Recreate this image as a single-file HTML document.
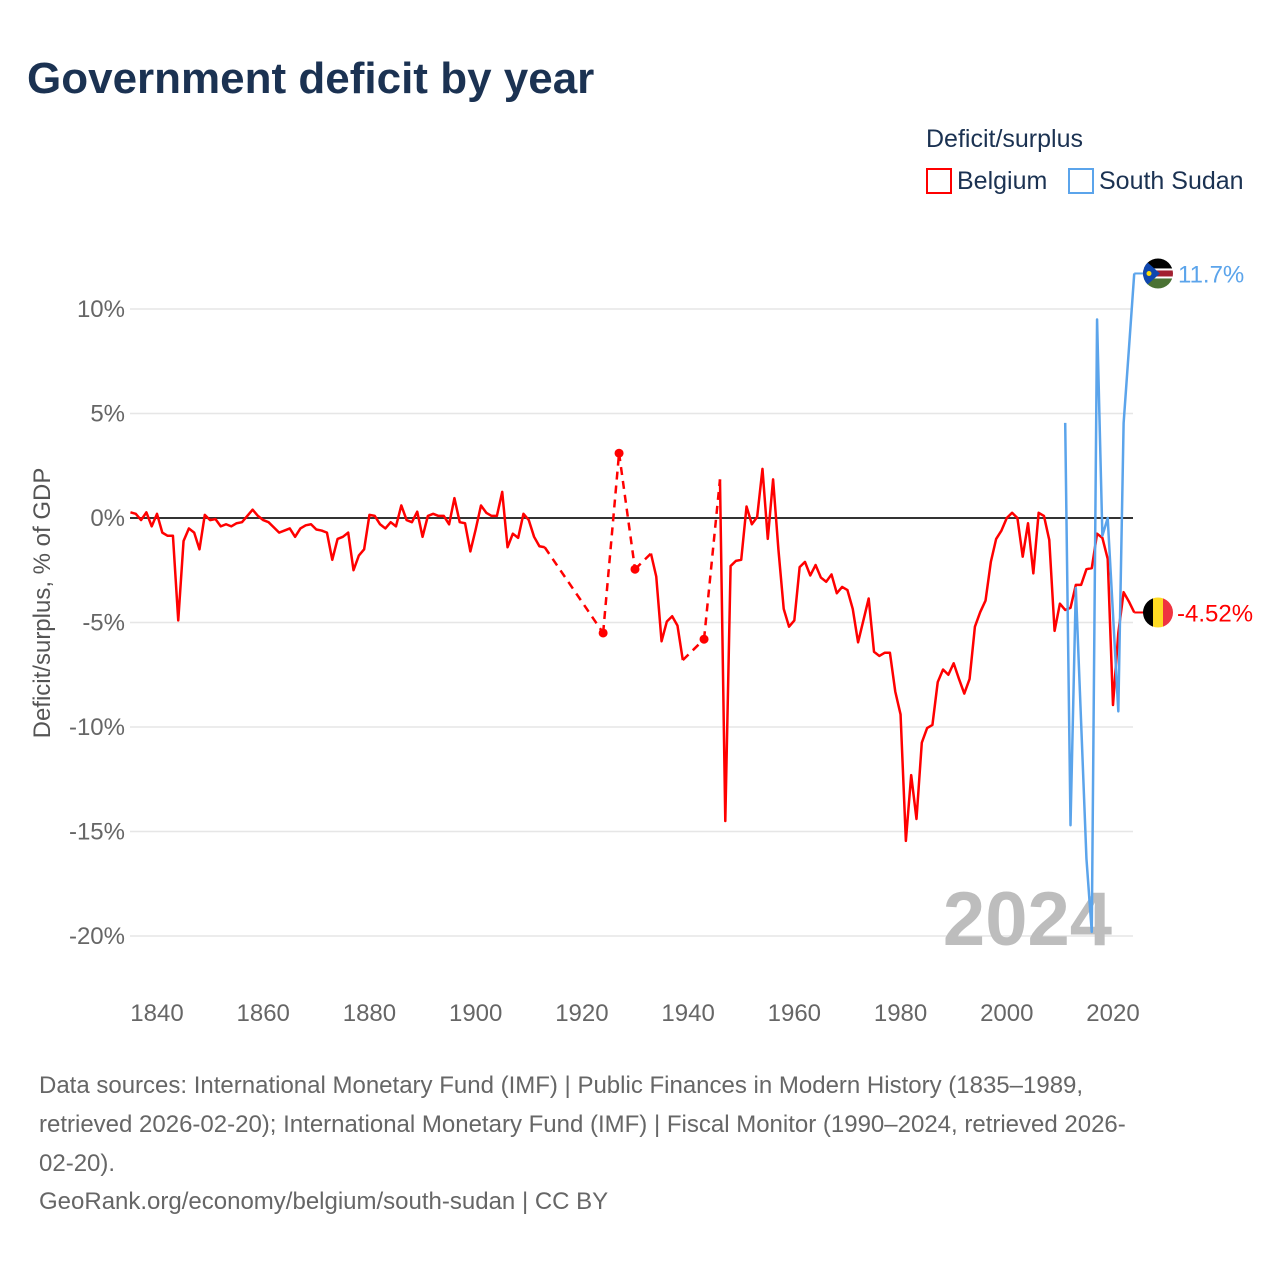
<!DOCTYPE html>
<html><head><meta charset="utf-8">
<style>
body{margin:0;background:#fff;width:1280px;height:1280px;overflow:hidden;font-family:"Liberation Sans",sans-serif;}
svg text{font-family:"Liberation Sans",sans-serif;}
</style></head>
<body>
<svg id="chart" width="1280" height="1280" viewBox="0 0 1280 1280" xmlns="http://www.w3.org/2000/svg">
<text x="27" y="93" font-size="44" font-weight="bold" fill="#1b3252">Government deficit by year</text>
<g>
<text x="926" y="147" font-size="25" fill="#1b3252">Deficit/surplus</text>
<rect x="927" y="169" width="24" height="24" fill="none" stroke="#ff0000" stroke-width="2"/>
<text x="957" y="189" font-size="25" fill="#1b3252">Belgium</text>
<rect x="1069" y="169" width="24" height="24" fill="none" stroke="#5ba4eb" stroke-width="2"/>
<text x="1099" y="189" font-size="25" fill="#1b3252">South Sudan</text>
</g>
<g id="grid"></g>
<g id="xaxis"></g>
<text x="1112" y="945" text-anchor="end" font-size="76" font-weight="bold" fill="#bdbdbd">2024</text>
<text transform="translate(50,603) rotate(-90)" text-anchor="middle" font-size="24" fill="#555">Deficit/surplus, % of GDP</text>
<g id="series"></g>
<g font-size="24" fill="#666">
<text x="39" y="1093">Data sources: International Monetary Fund (IMF) | Public Finances in Modern History (1835–1989,</text>
<text x="39" y="1132">retrieved 2026-02-20); International Monetary Fund (IMF) | Fiscal Monitor (1990–2024, retrieved 2026-</text>
<text x="39" y="1171">02-20).</text>
<text x="39" y="1209">GeoRank.org/economy/belgium/south-sudan | CC BY</text>
</g>
</svg>
<script>
const belgiumStart = 1835;
const belgiumValues = [0.27,0.2,-0.1,0.27,-0.4,0.2,-0.7,-0.85,-0.85,-4.9,-1.1,-0.5,-0.7,-1.5,0.15,-0.1,-0.05,-0.4,-0.3,-0.4,-0.25,-0.2,0.1,0.4,0.1,-0.1,-0.2,-0.45,-0.7,-0.6,-0.5,-0.9,-0.5,-0.35,-0.3,-0.55,-0.6,-0.7,-2.0,-1.0,-0.9,-0.7,-2.5,-1.8,-1.5,0.15,0.1,-0.3,-0.5,-0.2,-0.4,0.6,-0.1,-0.2,0.3,-0.9,0.1,0.2,0.1,0.1,-0.3,0.95,-0.2,-0.25,-1.6,-0.55,0.6,0.25,0.1,0.1,1.25,-1.4,-0.75,-0.95,0.2,-0.1,-0.9,-1.35,-1.4,
null,null,null,null,null,null,null,null,null,null,-5.5,null,null,3.1,null,null,-2.45,null,null,-1.7,-2.8,-5.9,-4.95,-4.7,-5.15,-6.8,null,null,null,-5.8,null,null,1.85,-14.5,-2.3,-2.05,-2.0,0.55,-0.3,0.05,2.35,-1.0,1.85,-1.5,-4.35,-5.2,-4.9,-2.35,-2.1,-2.75,-2.25,-2.85,-3.05,-2.7,-3.6,-3.3,-3.45,-4.35,-5.95,-4.9,-3.85,
-6.4,-6.6,-6.45,-6.45,-8.3,-9.4,-15.45,-12.3,-14.4,-10.75,-10.05,-9.9,-7.85,-7.25,-7.5,-6.95,-7.7,-8.4,-7.7,-5.2,-4.5,-3.95,-2.1,-1.0,-0.6,0.0,0.25,0.0,-1.85,-0.25,-2.65,0.25,0.1,-1.05,-5.4,-4.1,-4.4,-4.3,-3.2,-3.2,-2.45,-2.4,-0.75,-0.95,-1.95,-8.95,-5.5,-3.55,-4.0,-4.52];
const sudanStart = 2011;
const sudanValues = [4.55,-14.7,-3.35,-9.8,-16.3,-19.8,9.5,-0.85,0.0,-4.6,-9.25,4.55,8.1,11.7];
const yTicks = [10,5,0,-5,-10,-15,-20];
const yTickLabels = ["10%","5%","0%","-5%","-10%","-15%","-20%"];
const xTicks = [1840,1860,1880,1900,1920,1940,1960,1980,2000,2020];

const NS="http://www.w3.org/2000/svg";
const X0=130, X1=1133;
function xs(y){return 157+(y-1840)*(1113-157)/180;}
function ys(v){return 518-v*(518-309)/10;}
function mk(tag,attrs,parent){const e=document.createElementNS(NS,tag);for(const k in attrs)e.setAttribute(k,attrs[k]);parent.appendChild(e);return e;}
const grid=document.getElementById('grid'), xa=document.getElementById('xaxis'), ser=document.getElementById('series');
yTicks.forEach((t,i)=>{
  const l=mk('line',{x1:X0,x2:X1,y1:ys(t),y2:ys(t),stroke:t===0?'#333':'#e6e6e6','stroke-width':t===0?2:1.5},grid);
  
  
  const tx=mk('text',{x:125,y:ys(t)+8,'text-anchor':'end','font-size':24,fill:'#666'},grid);
  tx.textContent=yTickLabels[i];
  
  
});
xTicks.forEach(t=>{
  const tx=mk('text',{x:xs(t),y:1021,'text-anchor':'middle','font-size':24,fill:'#666'},xa);
  tx.textContent=String(t);
  
  
});
function drawSeries(start,vals,color,name){
  const g=mk('g',{},ser);
  
  
  const pts=[];vals.forEach((v,i)=>{if(v!==null)pts.push([start+i,v]);});
  let solid='', dashed='';
  for(let i=0;i<pts.length;i++){
    const [yr,v]=pts[i];
    if(i===0||pts[i-1][0]!==yr-1){solid+=`M${xs(yr)},${ys(v)}`;if(i>0)dashed+=`M${xs(pts[i-1][0])},${ys(pts[i-1][1])}L${xs(yr)},${ys(v)}`;}
    else solid+=`L${xs(yr)},${ys(v)}`;
  }
  const p1=mk('path',{d:solid,fill:'none',stroke:color,'stroke-width':2.5,'stroke-linejoin':'round'},g);
  
  
  if(dashed){const p2=mk('path',{d:dashed,fill:'none',stroke:color,'stroke-width':2.5,'stroke-dasharray':'8 6'},g);
    
    }
  for(let i=0;i<pts.length;i++){
    const prev=i>0&&pts[i-1][0]===pts[i][0]-1, next=i<pts.length-1&&pts[i+1][0]===pts[i][0]+1;
    if(!prev&&!next){const c=mk('circle',{cx:xs(pts[i][0]),cy:ys(pts[i][1]),r:4.5,fill:color},g);
      
      }
  }
  const last=pts[pts.length-1];
  const h=mk('line',{x1:xs(last[0]),x2:1145,y1:ys(last[1]),y2:ys(last[1]),stroke:color,'stroke-width':2},g);
  
  
  return ys(last[1]);
}
const yb=drawSeries(belgiumStart,belgiumValues,'#ff0000','belgium');
const yss=drawSeries(sudanStart,sudanValues,'#5ba4eb','south-sudan');
function flag(cy,name,inner){
  const g=mk('g',{},ser);
  
  
  const id='clip-'+name;
  const cp=mk('clipPath',{id:id},g);mk('circle',{cx:1158,cy:cy,r:15},cp);
  const gi=mk('g',{'clip-path':`url(#${id})`},g);
  inner(gi,cy);
}
flag(yb,'belgium',(g,cy)=>{
  mk('rect',{x:1143,y:cy-15,width:10,height:30,fill:'#000'},g);
  mk('rect',{x:1153,y:cy-15,width:10,height:30,fill:'#fdda24'},g);
  mk('rect',{x:1163,y:cy-15,width:10,height:30,fill:'#ef3340'},g);
});
flag(yss,'south-sudan',(g,cy)=>{
  mk('rect',{x:1143,y:cy-15,width:30,height:10,fill:'#000'},g);
  mk('rect',{x:1143,y:cy-5,width:30,height:10,fill:'#fff'},g);
  mk('rect',{x:1143,y:cy-3,width:30,height:6,fill:'#a22030'},g);
  mk('rect',{x:1143,y:cy+5,width:30,height:10,fill:'#4a7233'},g);
  mk('polygon',{points:`1143,${cy-15} 1160,${cy} 1143,${cy+15}`,fill:'#0f47af'},g);
  mk('circle',{cx:1149,cy:cy,r:2.5,fill:'#fcdd09'},g);
});
const lb=mk('text',{x:1177,y:yb+9,'font-size':24,fill:'#ff0000'},ser);
lb.textContent=belgiumValues[belgiumValues.length-1].toFixed(2)+'%';


const ls=mk('text',{x:1178,y:yss+9,'font-size':24,fill:'#5ba4eb'},ser);
ls.textContent=sudanValues[sudanValues.length-1].toFixed(1)+'%';


</script>
</body></html>
